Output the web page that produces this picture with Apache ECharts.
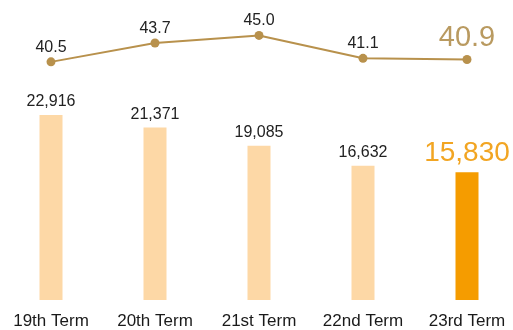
<!DOCTYPE html>
<html>
<head>
<meta charset="utf-8">
<script src="https://cdn.jsdelivr.net/npm/echarts@6/dist/echarts.min.js"></script>
<style>
html,body{margin:0;padding:0;background:#fff;}
#c{width:513px;height:330px;}
</style>
</head>
<body>
<div id="c"></div>
<script>
var categories = ['19th Term', '20th Term', '21st Term', '22nd Term', '23rd Term'];
var barValues = [22916, 21371, 19085, 16632, 15830];
var lineValues = [40.5, 43.7, 45.0, 41.1, 40.9];

var FONT = '"Liberation Sans", Arial, sans-serif';
var lastIdx = categories.length - 1;

var barData = barValues.map(function (v, i) {
  var hi = i === lastIdx;
  return {
    value: v,
    itemStyle: { color: hi ? '#f59c00' : '#fdd8a6' },
    label: hi ? { fontSize: 28, color: '#f2a522', distance: 5 } : {}
  };
});
var lineData = lineValues.map(function (v, i) {
  var hi = i === lastIdx;
  return {
    value: v,
    label: hi ? { fontSize: 29, color: '#b99a60', distance: 3 } : {}
  };
});

var chart = echarts.init(document.getElementById('c'), null, { renderer: 'canvas' });
chart.setOption({
  animation: false,
  grid: { left: -1, width: 520, top: 6, bottom: 30, containLabel: false, outerBoundsMode: 'none' },
  xAxis: {
    type: 'category',
    data: categories,
    axisLine: { show: false },
    axisTick: { show: false },
    axisLabel: { color: '#1a1a1a', fontSize: 17, fontFamily: FONT, margin: 13, interval: 0, hideOverlap: false }
  },
  yAxis: [
    { type: 'value', min: 0, max: 36400, show: false },
    { type: 'value', min: 0, max: 50, show: false }
  ],
  series: [
    {
      type: 'bar',
      yAxisIndex: 0,
      data: barData,
      barWidth: 23,
      label: {
        show: true, position: 'top', distance: 5,
        fontSize: 16, fontFamily: FONT, color: '#222',
        formatter: function (p) { return p.value.toLocaleString('en-US'); }
      }
    },
    {
      type: 'line',
      yAxisIndex: 1,
      data: lineData,
      symbol: 'circle',
      symbolSize: 9,
      lineStyle: { color: '#b8914c', width: 2 },
      itemStyle: { color: '#b8914c' },
      label: {
        show: true, position: 'top', distance: 2,
        fontSize: 16, fontFamily: FONT, color: '#222',
        formatter: function (p) { return p.value.toFixed(1); }
      }
    }
  ]
});
</script>
</body>
</html>
